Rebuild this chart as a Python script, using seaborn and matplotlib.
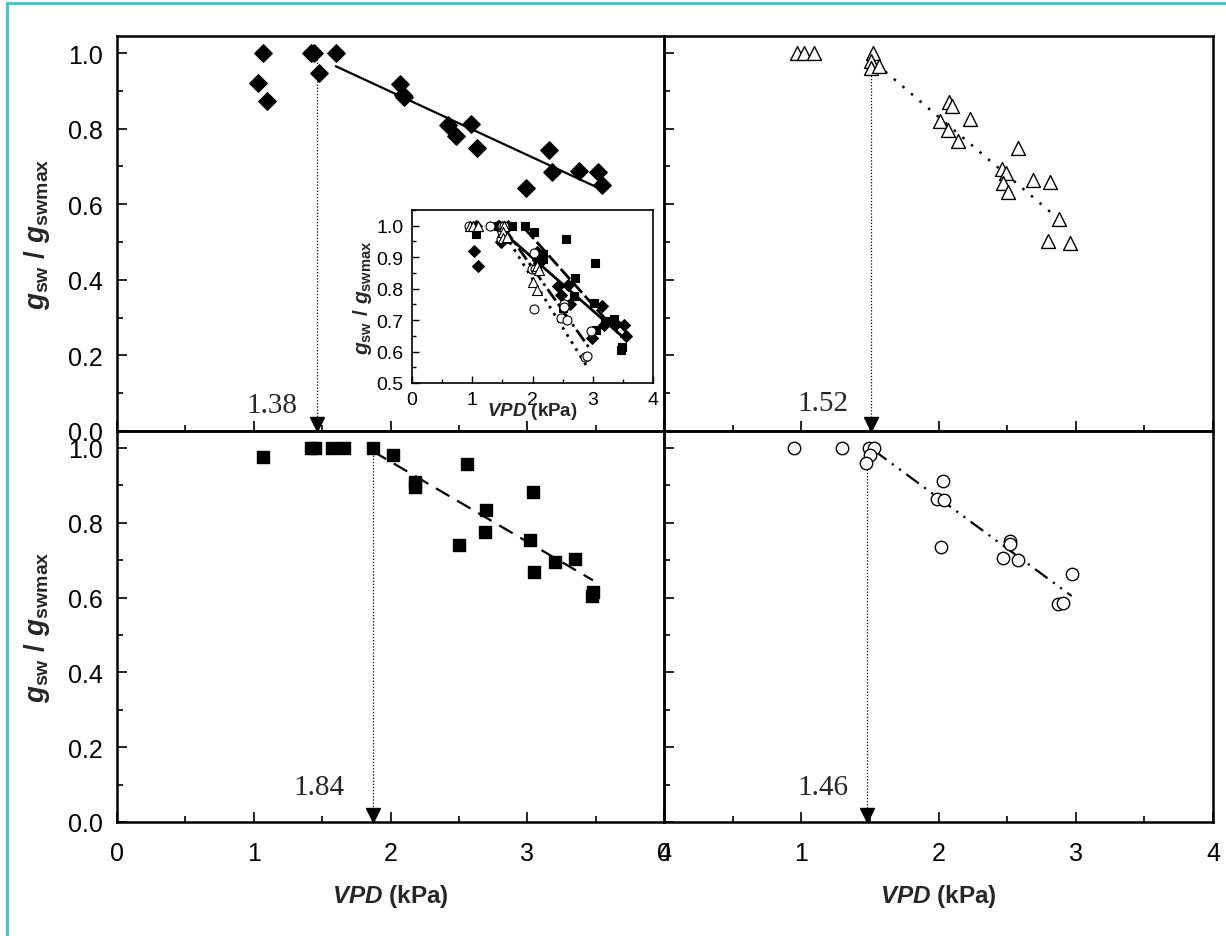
import matplotlib
matplotlib.use('Agg')
import matplotlib.pyplot as plt
import matplotlib.patches as patches
from matplotlib.ticker import MultipleLocator
import seaborn as sns

# Données : VPD (kPa) et gsw / gswmax
diam_vpd = [1.03, 1.07, 1.10, 1.42, 1.44, 1.48, 1.60, 2.07, 2.09, 2.10, 2.42, 2.48,
            2.59, 2.63, 2.99, 3.16, 3.18, 3.38, 3.52, 3.55]
diam_g = [0.920, 1.0, 0.873, 1.0, 1.0, 0.947, 1.0, 0.917, 0.890, 0.883, 0.809, 0.780,
          0.813, 0.750, 0.644, 0.744, 0.685, 0.688, 0.685, 0.651]

tri_vpd = [0.97, 1.02, 1.09, 1.52, 1.51, 1.51, 1.57, 2.08, 2.10, 2.01, 2.07, 2.23,
           2.14, 2.58, 2.46, 2.49, 2.47, 2.51, 2.69, 2.81, 2.88, 2.80, 2.96]
tri_g = [1.0, 1.0, 1.0, 1.0, 0.979, 0.960, 0.965, 0.871, 0.859, 0.820, 0.796, 0.826,
         0.766, 0.749, 0.693, 0.682, 0.657, 0.631, 0.664, 0.658, 0.561, 0.503, 0.498]
n_tri_encart = 11  # seuls les premiers triangles apparaissent dans l'encart

sq_vpd = [1.07, 1.42, 1.45, 1.57, 1.66, 1.87, 2.02, 2.18, 2.18, 2.50, 2.56, 2.70,
          2.69, 3.02, 3.04, 3.05, 3.20, 3.35, 3.47, 3.48]
sq_g = [0.975, 1.0, 1.0, 1.0, 1.0, 1.0, 0.980, 0.910, 0.895, 0.739, 0.958, 0.835,
        0.776, 0.755, 0.883, 0.667, 0.696, 0.702, 0.604, 0.616]

circ_vpd = [0.945, 1.30, 1.49, 1.53, 1.50, 1.47, 2.03, 1.99, 2.04, 2.02, 2.52, 2.52,
            2.47, 2.58, 2.97, 2.87, 2.91]
circ_g = [1.0, 1.0, 1.0, 1.0, 0.980, 0.959, 0.912, 0.863, 0.861, 0.736, 0.752, 0.742,
          0.706, 0.701, 0.664, 0.582, 0.585]

# droites d'ajustement (début, fin)
fit_diam_x, fit_diam_y = [1.60, 3.55], [0.965, 0.638]
fit_tri_x, fit_tri_y = [1.55, 2.92], [0.970, 0.547]
fit_sq_x, fit_sq_y = [1.87, 3.48], [0.991, 0.646]
fit_circ_x, fit_circ_y = [1.53, 2.97], [0.993, 0.604]

# seuils (flèches) et étiquettes
arrow_x = [1.46, 1.51, 1.87, 1.48]
arrow_top = [0.985, 0.965, 0.99, 0.96]
seuil_labels = ['1.38', '1.52', '1.84', '1.46']
seuil_label_x = [1.13, 1.16, 1.48, 1.16]
seuil_label_y = [0.035, 0.04, 0.058, 0.058]

sns.set_style('ticks')
plt.rcParams['font.family'] = ['Liberation Sans', 'DejaVu Sans']
plt.rcParams['mathtext.fontset'] = 'custom'
plt.rcParams['mathtext.rm'] = 'Liberation Sans:bold'
plt.rcParams['mathtext.it'] = 'Liberation Sans:italic:bold'
plt.rcParams['mathtext.bf'] = 'Liberation Sans:bold'

ylab = r'$\mathit{g}_{\mathrm{sw}}\ /\ \mathit{g}_{\mathrm{swmax}}$'
xlab = r'$\mathit{VPD}$ (kPa)'

fig = plt.figure(figsize=(12.26, 9.37), dpi=100)

L, M, R = 117 / 1226, 664 / 1226, 1213 / 1226
T, H, B = 1 - 37 / 937, 1 - 432 / 937, 1 - 823 / 937
ax_tl = fig.add_axes([L, H, M - L, T - H])
ax_tr = fig.add_axes([M, H, R - M, T - H])
ax_bl = fig.add_axes([L, B, M - L, H - B])
ax_br = fig.add_axes([M, B, R - M, H - B])


def habiller(ax, show_x, show_y):
    ax.set_xlim(0, 4)
    ax.set_ylim(0, 1.045)
    ax.set_facecolor('none')
    for s in ax.spines.values():
        s.set_visible(True)
        s.set_linewidth(1.8)
        s.set_color('black')
    ax.xaxis.set_major_locator(MultipleLocator(1))
    ax.xaxis.set_minor_locator(MultipleLocator(0.5))
    ax.yaxis.set_major_locator(MultipleLocator(0.2))
    ax.yaxis.set_minor_locator(MultipleLocator(0.1))
    ax.tick_params(which='both', direction='in', top=False, right=False,
                   width=1.2, color='black', labelsize=18, labelcolor='black')
    ax.tick_params(which='major', length=7)
    ax.tick_params(which='minor', length=4)
    ax.tick_params(axis='x', pad=14)
    ax.tick_params(axis='y', pad=10)
    ax.tick_params(labelbottom=show_x, labelleft=show_y)
    ax.set_xlabel(xlab if show_x else '', fontsize=17.5, fontweight='bold', labelpad=12)
    ax.set_ylabel(ylab if show_y else '', fontsize=20, labelpad=12)


panneaux = [
    (ax_tl, diam_vpd, diam_g, 'D', 'black', 78, fit_diam_x, fit_diam_y, '-'),
    (ax_tr, tri_vpd, tri_g, '^', 'white', 100, fit_tri_x, fit_tri_y, (0, (1, 3.5))),
    (ax_bl, sq_vpd, sq_g, 's', 'black', 80, fit_sq_x, fit_sq_y, (0, (7, 4))),
    (ax_br, circ_vpd, circ_g, 'o', 'white', 80, fit_circ_x, fit_circ_y,
     (0, (7, 3, 1, 3, 1, 3))),
]

for i, (ax, vx, vy, mk, fc, sz, fx, fy, ls) in enumerate(panneaux):
    sns.scatterplot(x=vx, y=vy, marker=mk, s=sz, color=fc, edgecolor='black',
                    linewidth=1.0, ax=ax, zorder=3)
    lw = 1.8 if ls == (0, (1, 3.5)) else 1.6
    ax.plot(fx, fy, color='black', lw=lw, ls=ls, zorder=2)
    # flèche pointillée vers le seuil
    ax.plot([arrow_x[i], arrow_x[i]], [arrow_top[i], 0.02], color='black',
            lw=0.9, ls=(0, (1, 1.5)), zorder=2)
    ax.plot([arrow_x[i]], [0.019], marker='v', ms=10, color='black',
            clip_on=False, zorder=4)
    ax.text(seuil_label_x[i], seuil_label_y[i], seuil_labels[i], family='Liberation Serif',
            fontsize=21, ha='center', va='bottom')

habiller(ax_tl, False, True)
habiller(ax_tr, False, False)
habiller(ax_bl, True, True)
habiller(ax_br, True, False)

# encart avec les quatre séries
ax_in = fig.add_axes([412 / 1226, 1 - 384 / 937, 241 / 1226, 173 / 937])
ax_in.set_facecolor('white')
encart = [
    (sq_vpd, sq_g, 's', 'black', 38, fit_sq_x, fit_sq_y, (0, (5, 1.5))),
    (diam_vpd, diam_g, 'D', 'black', 36, fit_diam_x, fit_diam_y, '-'),
    (circ_vpd, circ_g, 'o', 'white', 42, fit_circ_x, fit_circ_y, (0, (5, 1.5, 1, 1.5))),
    (tri_vpd[:n_tri_encart], tri_g[:n_tri_encart], '^', 'white', 52,
     fit_tri_x, fit_tri_y, (0, (1, 2))),
]
for vx, vy, mk, fc, sz, fx, fy, ls in encart:
    sns.scatterplot(x=vx, y=vy, marker=mk, s=sz, color=fc, edgecolor='black',
                    linewidth=0.8, ax=ax_in, zorder=3)
    ax_in.plot(fx, fy, color='black', lw=2.0, ls=ls, zorder=2)

ax_in.set_xlim(0, 4)
ax_in.set_ylim(0.5, 1.05)
for s in ax_in.spines.values():
    s.set_visible(True)
    s.set_linewidth(1.2)
    s.set_color('black')
ax_in.xaxis.set_major_locator(MultipleLocator(1))
ax_in.xaxis.set_minor_locator(MultipleLocator(0.5))
ax_in.yaxis.set_major_locator(MultipleLocator(0.1))
ax_in.yaxis.set_minor_locator(MultipleLocator(0.05))
ax_in.tick_params(which='both', direction='in', top=False, right=False,
                  width=1.0, color='black', labelsize=14, labelcolor='black')
ax_in.tick_params(which='major', length=5, pad=6)
ax_in.tick_params(which='minor', length=3)
ax_in.set_xlabel(xlab, fontsize=13.5, fontweight='bold', labelpad=-6)
ax_in.set_ylabel(ylab, fontsize=15, labelpad=2)

# cadre turquoise
fig.patches.append(patches.Rectangle((7 / 1226, -0.05), 1.2, 1 - 4 / 937 + 0.05,
                                     transform=fig.transFigure, fill=False,
                                     edgecolor='#48c9c9', lw=2.2))

fig.savefig('out.png', dpi=100)
